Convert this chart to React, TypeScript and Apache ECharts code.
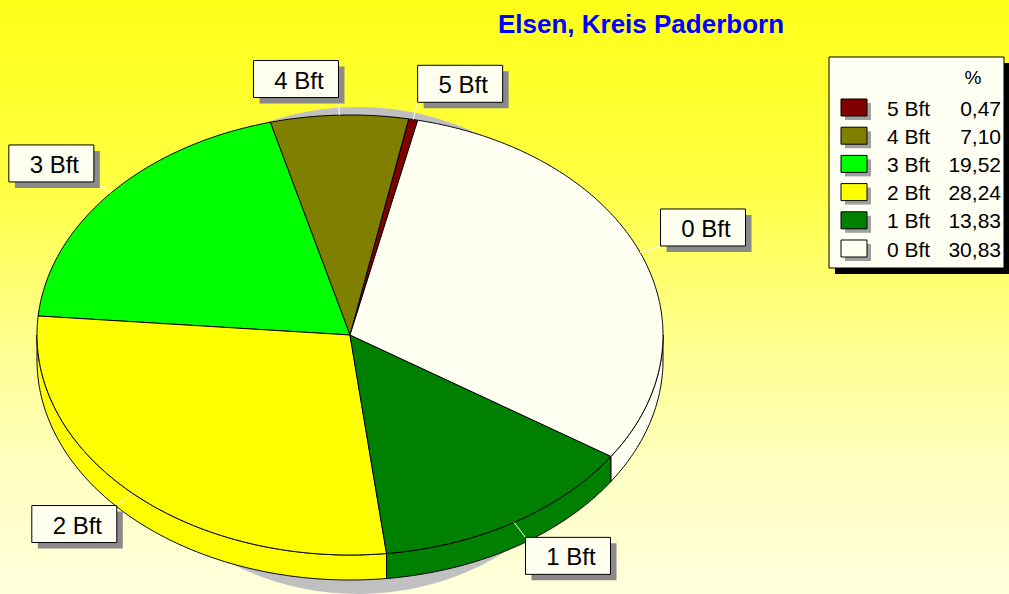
import React, { useEffect, useRef } from 'react';
import * as echarts from 'echarts';

// ---- data ----
const categories = ['5 Bft', '4 Bft', '3 Bft', '2 Bft', '1 Bft', '0 Bft'];
const percentValues = [0.47, 7.1, 19.52, 28.24, 13.83, 30.83];
const sliceColors = ['#800000', '#808000', '#00ff00', '#ffff00', '#008000', '#fffff2'];
const titleText = 'Elsen, Kreis Paderborn';
const legendHeader = '%';

// ---- geometry / style ----
const CX = 350, CY = 335, RX = 313, RY = 220, DEPTH = 25;
const START_DEG = 372.5; // clockwise from 12 o'clock
const FONT = '"Liberation Sans", Arial, sans-serif';

function pt(deg: number, dy = 0, kx = 1, ky = 1): number[] {
  const r = (deg * Math.PI) / 180;
  return [CX + RX * kx * Math.sin(r), CY - RY * ky * Math.cos(r) + dy];
}
function arcPts(a0: number, a1: number, dy: number): number[][] {
  const n = Math.max(2, Math.ceil(Math.abs(a1 - a0) / 0.5));
  const pts: number[][] = [];
  for (let i = 0; i <= n; i++) pts.push(pt(a0 + ((a1 - a0) * i) / n, dy));
  return pts;
}

const total = percentValues.reduce((a, b) => a + b, 0);
function sliceRange(i: number, v: number): [number, number] {
  let cum = 0;
  for (let k = 0; k < i; k++) cum += percentValues[k];
  const hi = START_DEG - (cum / total) * 360;
  const lo = START_DEG - ((cum + v) / total) * 360;
  return [lo, hi];
}
const fmt = (v: number) => v.toFixed(2).replace('.', ',');

export default function App() {
  const ref = useRef<HTMLDivElement>(null);
  useEffect(() => {
    if (!ref.current) return;
    const chart = echarts.init(ref.current, undefined, { renderer: 'svg' });
    const seriesData = percentValues.map((v, i) => ({ value: v, name: categories[i] }));

    const legendX = 829, legendY = 57, legendW = 175, legendH = 211;
    const rowY0 = 108, rowStep = 28.2;
    const legendEls: any[] = [
      { type: 'rect', shape: { x: legendX + 6, y: legendY + 6, width: legendW, height: legendH }, style: { fill: '#000' } },
      { type: 'rect', shape: { x: legendX, y: legendY, width: legendW, height: legendH }, style: { fill: '#fffff4', stroke: '#000', lineWidth: 1 } },
      { type: 'text', x: 973, y: 77, style: { text: legendHeader, align: 'center', verticalAlign: 'middle', fontSize: 19, fontFamily: FONT, fill: '#000' } },
    ];
    categories.forEach((c, i) => {
      const y = rowY0 + i * rowStep;
      legendEls.push(
        { type: 'rect', shape: { x: 845, y: y - 5, width: 26, height: 17 }, style: { fill: '#a0a0a0' } },
        { type: 'rect', shape: { x: 841, y: y - 9, width: 26, height: 17 }, style: { fill: sliceColors[i], stroke: '#000', lineWidth: 1 } },
        { type: 'text', x: 887, y, style: { text: c, align: 'left', verticalAlign: 'middle', fontSize: 21, fontFamily: FONT, fill: '#000' } },
        { type: 'text', x: 1001, y, style: { text: fmt(percentValues[i]), align: 'right', verticalAlign: 'middle', fontSize: 21, fontFamily: FONT, fill: '#000' } }
      );
    });

    chart.setOption({
      animation: false,
      backgroundColor: 'transparent',
      graphic: [
        { type: 'text', x: 641, y: 24, style: { text: titleText, align: 'center', verticalAlign: 'middle', fontSize: 26, fontWeight: 'bold', fontFamily: FONT, fill: '#0000ff' } },
        { type: 'group', children: legendEls },
      ],
      series: [
        {
          type: 'custom',
          coordinateSystem: 'none',
          z: 1,
          silent: true,
          data: [0],
          renderItem: () => ({
            type: 'ellipse',
            shape: { cx: 358, cy: 350.5, rx: 262, ry: 243.5 },
            style: { fill: '#c0c0c0' },
          }),
        },
        {
          type: 'custom',
          coordinateSystem: 'none',
          z: 2,
          silent: true,
          data: seriesData,
          renderItem: (params: any, api: any) => {
            const i = params.dataIndex;
            const v = api.value(0);
            const [lo, hi] = sliceRange(i, v);
            const children: any[] = [];
            const s = Math.max(lo, 90), e = Math.min(hi, 270);
            if (s < e) {
              const pts = arcPts(s, e, 0).concat(arcPts(s, e, DEPTH).reverse());
              children.push({ type: 'polygon', shape: { points: pts }, style: { fill: sliceColors[i], stroke: '#000', lineWidth: 1 } });
            }
            const top = [[CX, CY]].concat(arcPts(lo, hi, 0));
            children.push({ type: 'polygon', shape: { points: top }, style: { fill: sliceColors[i], stroke: '#000', lineWidth: 1 } });
            return { type: 'group', children };
          },
        },
        {
          type: 'custom',
          coordinateSystem: 'none',
          z: 5,
          silent: true,
          data: seriesData,
          renderItem: (params: any, api: any) => {
            const i = params.dataIndex;
            const v = api.value(0);
            const [lo, hi] = sliceRange(i, v);
            const m = (lo + hi) / 2;
            const r = (m * Math.PI) / 180;
            const edge = pt(m);
            const anc = pt(m, 0, 1.07, 1.08);
            const w = 85, h = 37;
            const bx = Math.sin(r) >= 0 ? anc[0] : anc[0] - w;
            const by = Math.cos(r) >= 0 ? anc[1] - h : anc[1];
            return {
              type: 'group',
              children: [
                { type: 'line', shape: { x1: edge[0], y1: edge[1], x2: anc[0], y2: anc[1] }, style: { stroke: '#ffffff', lineWidth: 1 } },
                { type: 'rect', shape: { x: bx + 6, y: by + 6, width: w, height: h }, style: { fill: '#8a8a8a' } },
                { type: 'rect', shape: { x: bx, y: by, width: w, height: h }, style: { fill: '#fffff0', stroke: '#000', lineWidth: 1 } },
                { type: 'text', x: bx + w / 2 + 3, y: by + h / 2 + 1, style: { text: categories[i], align: 'center', verticalAlign: 'middle', fontSize: 24, fontFamily: FONT, fill: '#000' } },
              ],
            };
          },
        },
      ],
    });
    return () => chart.dispose();
  }, []);

  return (
    <div
      ref={ref}
      style={{
        position: 'fixed',
        left: 0,
        top: 0,
        width: 1009,
        height: 594,
        background: 'linear-gradient(to bottom, #ffff1a 0%, #ffff40 30%, #ffff88 55%, #ffffc4 80%, #ffffdc 100%)',
      }}
    />
  );
}
